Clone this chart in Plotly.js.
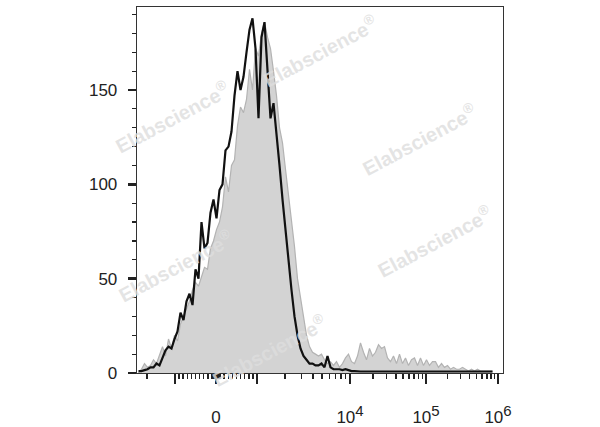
<!DOCTYPE html>
<html>
<head>
<meta charset="utf-8">
<script src="https://cdn.plot.ly/plotly-3.0.1.min.js"></script>
<style>html,body{margin:0;padding:0;background:#fff;}#chart{width:600px;height:427px;}</style>
</head>
<body>
<div id="chart"></div>
<script>
// Histogram bins, evenly spaced on the biexponential display scale
const binStart = -77.5;   // display units of first bin centre
const binWidth = 3;       // display units per bin

// Counts per bin: black = stained sample, gray = control
const blackCounts = [1,1,1.5,2,3,3,5,4,8,12,14,13,18,22,32,28,38,42,36,55,50,80,66,69,85,92,82,97,100,118,120,128,147,160,150,157,170,182,188,172,135,178,186,160,135,143,128,110,92,75,58,44,30,20,13,9,7,5,5,4,4,5,3,9,3,2,2,2,1.5,2,1.5,1,1,0.8,0.8,0.8,0.8,0.8,0.8,0.8,0.8,0.8,0.8,0.8,0.8,0.8,0.8,0.8,0.8,0.8,0.8,0.8,0.8,0.8,0.8,0.8,0.8,0.8,0.8,0.8,0.8,0.8,0.8,0.8,0.8,0.8,0.8,0.8,0.8,0.8,0.8,0.8,0.8,0.8,0.8,0.8,0.8,0.8,0.8];
const grayCounts = [0,2,5,3,4,7,5,10,14,9,18,13,20,17,26,30,34,38,44,48,46,51,56,55,66,70,76,80,88,104,96,110,113,131,141,138,145,161,150,172,168,180,186,178,172,160,147,130,122,108,95,82,67,50,40,28,20,14,11,10,9,10,7,5,6,4,6,3,5,8,10,6,5,9,16,11,7,13,9,11,15,13,14,8,6,9,5,10,5,8,4,7,8,4,8,4,7,4,6,6,3,5,3,4,2,3,2,2,3,2,1,2,1,2,1,1,1,1,1,0.5,0.5,0.5];

// Axis tick values (data units)
const majorTickValues = [-1000, 0, 1000, 1e4, 1e5, 1e6];
const sup = e => '10<sup><span style="font-size:15px">' + e + '</span></sup>';
const majorTickLabels = ['', '0', '', sup(4), sup(5), sup(6)];
const yTickValues = [0, 50, 100, 150];

// Biexponential display transform parameters
const LINEAR_WIDTH = 41;            // display units from 0 to 1000
const DECADE_WIDTHS = [93, 76, 72]; // display units for decades 10^3-10^4, 10^4-10^5, 10^5-10^6

function toDisplay(v) {
  const a = Math.abs(v), s = Math.sign(v);
  if (a <= 1000) return s * LINEAR_WIDTH * a / 1000;
  const u = Math.log10(a);
  let d = LINEAR_WIDTH;
  for (let k = 0; k < DECADE_WIDTHS.length; k++) {
    const seg = Math.min(Math.max(u - (3 + k), 0), 1);
    d += seg * DECADE_WIDTHS[k];
  }
  return s * d;
}

// minor tick values (data units)
const minorVals = [];
[-1, 1].forEach(sign => {
  for (let m = 10; m < 100; m += 10) minorVals.push(sign * m);
  for (let m = 100; m < 1000; m += 100) minorVals.push(sign * m);
});
minorVals.push(-2000);
for (let dec = 1e3; dec < 1e6; dec *= 10) {
  for (let m = 2; m <= 9; m++) minorVals.push(m * dec);
}

const xs = blackCounts.map((_, i) => binStart + i * binWidth);

const traces = [
  {
    x: xs, y: grayCounts, type: 'scatter', mode: 'lines',
    line: {color: '#b3b3b3', width: 1.2, shape: 'linear'},
    fill: 'tozeroy', fillcolor: '#d3d3d3', hoverinfo: 'skip'
  },
  {
    x: xs, y: blackCounts, type: 'scatter', mode: 'lines',
    line: {color: '#111111', width: 2.2, shape: 'linear'}, hoverinfo: 'skip'
  }
];

const wm = (x, y) => ({
  xref: 'paper', yref: 'paper', x: x, y: y, xanchor: 'center', yanchor: 'middle',
  text: 'Elabscience<sup>®</sup>',
  showarrow: false, textangle: -28,
  font: {family: 'Liberation Sans, Arial, sans-serif', size: 20, color: 'rgba(222,222,222,0.82)', weight: 'bold'}
});

const layout = {
  width: 600, height: 427,
  margin: {l: 137, r: 97, t: 7, b: 54},
  paper_bgcolor: '#ffffff', plot_bgcolor: '#ffffff',
  showlegend: false,
  xaxis: {
    range: [-79, 287],
    tickmode: 'array',
    tickvals: majorTickValues.map(toDisplay),
    ticktext: majorTickLabels,
    ticks: 'outside', ticklen: 10, tickwidth: 2.5, tickcolor: '#222',
    showline: true, linecolor: '#333', linewidth: 1.3, mirror: true,
    showgrid: false, zeroline: false,
    ticklabelstandoff: 18,
    tickfont: {family: 'Liberation Sans, Arial, sans-serif', size: 17, color: '#222'},
    minor: {tickmode: 'array', tickvals: minorVals.map(toDisplay), ticks: 'outside', ticklen: 5, tickwidth: 1.5, tickcolor: '#222', showgrid: false}
  },
  yaxis: {
    range: [0, 194],
    tickmode: 'array', tickvals: yTickValues,
    ticks: 'outside', ticklen: 8, tickwidth: 2.5, tickcolor: '#222',
    showline: true, linecolor: '#333', linewidth: 1.3, mirror: true,
    showgrid: false, zeroline: false,
    ticklabelstandoff: 7,
    tickfont: {family: 'Liberation Sans, Arial, sans-serif', size: 17, color: '#222'},
    minor: {dtick: 10, tick0: 0, ticks: 'outside', ticklen: 4, tickwidth: 1.2, tickcolor: '#222', showgrid: false}
  },
  annotations: [
    wm(0.096, 0.70), wm(0.50, 0.88), wm(0.773, 0.64), wm(0.814, 0.363), wm(0.104, 0.295), wm(0.363, 0.063)
  ]
};

Plotly.newPlot('chart', traces, layout, {staticPlot: true, displayModeBar: false});
</script>
</body>
</html>
